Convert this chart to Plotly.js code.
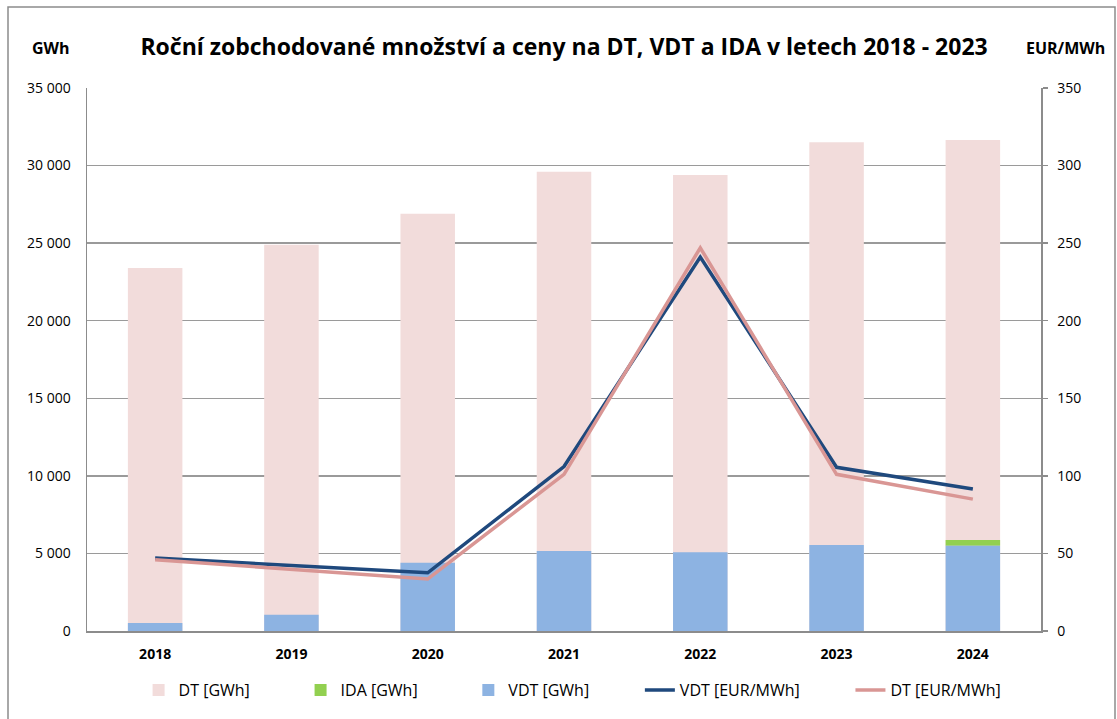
<!DOCTYPE html>
<html>
<head>
<meta charset="utf-8">
<script src="https://cdn.plot.ly/plotly-3.0.1.min.js"></script>
<style>
  html, body { margin: 0; padding: 0; background: #ffffff; }
  #chart { width: 1117px; height: 719px; }
</style>
</head>
<body>
<div id="chart"></div>
<script>
// Data
const years = ['2018', '2019', '2020', '2021', '2022', '2023', '2024'];
const dtGWh = [23400, 24900, 26900, 29600, 29400, 31500, 31650];
const vdtGWh = [520, 1050, 4400, 5150, 5070, 5540, 5500];
const idaGWh = [0, 0, 0, 0, 0, 0, 370];
const vdtPrice = [47, 42, 37.5, 106, 241, 105.5, 91.5];
const dtPrice = [46, 40, 33.5, 101, 247, 101, 85];
const seriesNames = ['DT [GWh]', 'IDA [GWh]', 'VDT [GWh]', 'VDT [EUR/MWh]', 'DT [EUR/MWh]'];

const FONT = '"Open Sans", "DejaVu Sans", sans-serif';
const PAD = '\u00A0'.repeat(11);

const traces = [
  {
    type: 'bar', name: seriesNames[0] + PAD, x: years, y: dtGWh,
    marker: { color: '#F2DCDB' }
  },
  {
    type: 'bar', name: seriesNames[1] + PAD, x: years, y: idaGWh, base: vdtGWh,
    marker: { color: '#92D050' }
  },
  {
    type: 'bar', name: seriesNames[2] + PAD, x: years, y: vdtGWh,
    marker: { color: '#8DB3E2' }
  },
  {
    type: 'scatter', mode: 'lines', name: seriesNames[3] + PAD, x: years, y: vdtPrice,
    yaxis: 'y2', line: { color: '#1F497D', width: 3.5 }
  },
  {
    type: 'scatter', mode: 'lines', name: seriesNames[4], x: years, y: dtPrice,
    yaxis: 'y2', line: { color: '#D99694', width: 3.5 }
  }
];

const layout = {
  width: 1117, height: 719,
  margin: { l: 87, r: 76, t: 88, b: 88 },
  paper_bgcolor: '#ffffff', plot_bgcolor: '#ffffff',
  font: { family: FONT, size: 13, color: '#000000' },
  separators: ', ',
  barmode: 'overlay',
  bargap: 0.6,
  showlegend: true,
  title: {
    text: '<b>Roční zobchodované množství a ceny na DT, VDT a IDA v letech 2018 - 2023</b>',
    font: { family: FONT, size: 23, color: '#000000' },
    x: 0.505, xanchor: 'center', y: 1 - 47 / 719, yanchor: 'middle'
  },
  xaxis: {
    type: 'category',
    showgrid: false, zeroline: false,
    showline: true, linecolor: '#8c8c8c', linewidth: 1.5,
    ticks: '',
    ticklabelstandoff: 10,
    tickfont: { family: FONT, size: 14, color: '#000000', weight: 'bold' }
  },
  yaxis: {
    range: [0, 35000], dtick: 5000, tick0: 0,
    tickformat: ',d',
    showgrid: true, gridcolor: '#9a9a9a', gridwidth: 1.3,
    showline: true, linecolor: '#8c8c8c', linewidth: 1.5,
    zeroline: false,
    ticks: '', ticklabelstandoff: 12,
    tickfont: { family: FONT, size: 14, color: '#000000' }
  },
  yaxis2: {
    overlaying: 'y', side: 'right',
    range: [0, 350], dtick: 50, tick0: 0,
    showgrid: false, zeroline: false,
    showline: true, linecolor: '#8c8c8c', linewidth: 1.5,
    ticks: 'outside', ticklen: 5, tickcolor: '#8c8c8c', tickwidth: 1.5,
    ticklabelstandoff: 7,
    tickfont: { family: FONT, size: 14, color: '#000000' }
  },
  legend: {
    orientation: 'h',
    x: 0.509, xanchor: 'center',
    y: (631 - 690) / 543, yanchor: 'middle',
    font: { family: FONT, size: 16, color: '#000000' },
    traceorder: 'normal',
    itemwidth: 30
  },
  annotations: [
    {
      text: '<b>GWh</b>', xref: 'paper', yref: 'paper',
      x: (51 - 87) / 954, y: (631 - 48) / 543, xanchor: 'center', yanchor: 'middle',
      showarrow: false, font: { family: FONT, size: 16, color: '#000000' }
    },
    {
      text: '<b>EUR/MWh</b>', xref: 'paper', yref: 'paper',
      x: (1065 - 87) / 954, y: (631 - 48) / 543, xanchor: 'center', yanchor: 'middle',
      showarrow: false, font: { family: FONT, size: 16, color: '#000000' }
    }
  ],
  shapes: [
    {
      type: 'rect', xref: 'paper', yref: 'paper', layer: 'below',
      x0: (8 - 87) / 954, x1: (1115 - 87) / 954,
      y0: (631 - 740) / 543, y1: (631 - 7) / 543,
      line: { color: '#8c8c8c', width: 1.5 }, fillcolor: 'rgba(0,0,0,0)'
    }
  ]
};

Plotly.newPlot('chart', traces, layout, { displayModeBar: false, staticPlot: true });
</script>
</body>
</html>
